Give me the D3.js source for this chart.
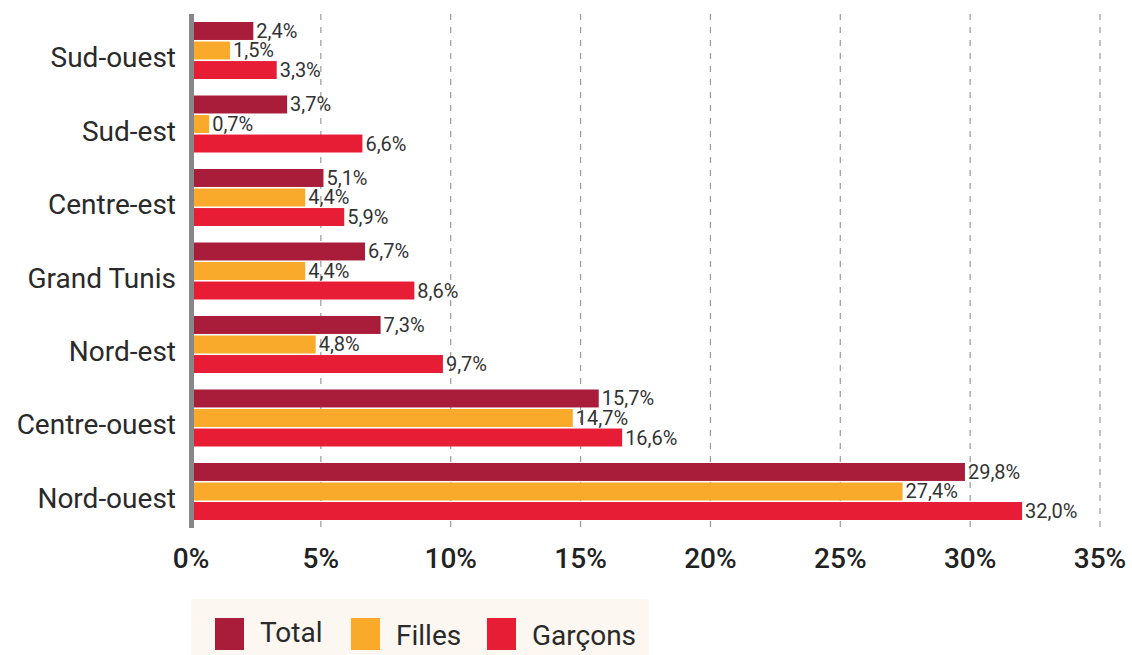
<!DOCTYPE html>
<html>
<head>
<meta charset="utf-8">
<script src="https://cdn.jsdelivr.net/npm/d3@7"></script>
<style>
  body { margin: 0; background: #fff; }
  svg { display: block; font-family: Roboto, "DejaVu Sans", sans-serif; }
</style>
</head>
<body>
<div id="chart"></div>
<script>
// categories top -> bottom
var regions = ["Sud-ouest", "Sud-est", "Centre-est", "Grand Tunis", "Nord-est", "Centre-ouest", "Nord-ouest"];
var seriesNames = ["Total", "Filles", "Garçons"];
var totalVals = [2.4, 3.7, 5.1, 6.7, 7.3, 15.7, 29.8];
var fillesVals = [1.5, 0.7, 4.4, 4.4, 4.8, 14.7, 27.4];
var garconsVals = [3.3, 6.6, 5.9, 8.6, 9.7, 16.6, 32.0];
var xTicks = [0, 5, 10, 15, 20, 25, 30, 35];
var colors = ["#a91d3a", "#f9aa2a", "#e71d36"];

var W = 1132, H = 655;
var svg = d3.select("#chart").append("svg").attr("width", W).attr("height", H);

var x = d3.scaleLinear().domain([0, 35]).range([191, 1100]);
var y = d3.scaleBand().domain(regions).range([14, 528]).paddingInner(0.2245).paddingOuter(0.109);
var ySub = d3.scaleBand().domain(seriesNames).range([0, y.bandwidth()]).paddingInner(0.08);

var allVals = [totalVals, fillesVals, garconsVals];

// dashed grid
svg.append("g").selectAll("line")
  .data(xTicks.slice(1))
  .enter().append("line")
  .attr("x1", function(d){ return x(d); })
  .attr("x2", function(d){ return x(d); })
  .attr("y1", 14).attr("y2", 528)
  .attr("stroke", "#9a9a9a").attr("stroke-width", 1.2)
  .attr("stroke-dasharray", "6,7");

// bars
var groups = svg.append("g").selectAll("g")
  .data(regions)
  .enter().append("g")
  .attr("transform", function(d){ return "translate(0," + y(d) + ")"; });

groups.each(function(reg, i){
  var g = d3.select(this);
  seriesNames.forEach(function(s, j){
    var v = allVals[j][i];
    g.append("rect")
      .attr("x", x(0))
      .attr("y", ySub(s))
      .attr("width", x(v) - x(0))
      .attr("height", ySub.bandwidth())
      .attr("fill", colors[j]);
    g.append("text")
      .attr("x", x(v) + 3)
      .attr("y", ySub(s) + ySub.bandwidth() / 2 + 7)
      .attr("font-size", 20)
      .attr("fill", "#333")
      .text(String(v.toFixed(1)).replace(".", ",") + "%");
  });
});

// axis line
svg.append("line")
  .attr("x1", 191.5).attr("x2", 191.5)
  .attr("y1", 14).attr("y2", 528)
  .attr("stroke", "#87878a").attr("stroke-width", 5);

// category labels
svg.append("g").selectAll("text")
  .data(regions)
  .enter().append("text")
  .attr("x", 176)
  .attr("y", function(d){ return y(d) + y.bandwidth() / 2 + 16.5; })
  .attr("text-anchor", "end")
  .attr("font-size", 28)
  .attr("fill", "#2a2a2a")
  .text(function(d){ return d; });

// x tick labels
svg.append("g").selectAll("text")
  .data(xTicks)
  .enter().append("text")
  .attr("x", function(d){ return x(d); })
  .attr("y", 568)
  .attr("text-anchor", "middle")
  .attr("font-size", 28)
  .attr("font-weight", 500)
  .attr("fill", "#222")
  .text(function(d){ return d + "%"; });

// legend
var leg = svg.append("g");
leg.append("rect").attr("x", 191).attr("y", 599).attr("width", 458).attr("height", 56).attr("fill", "#fcf7f0");
var legX = [215, 351, 487];
seriesNames.forEach(function(s, j){
  leg.append("rect").attr("x", legX[j]).attr("y", 618).attr("width", 29).attr("height", 32).attr("fill", colors[j]);
  leg.append("text").attr("x", legX[j] + 45).attr("y", j == 0 ? 642 : 645)
    .attr("font-size", 28).attr("fill", "#2a2a2a").text(s);
});
</script>
</body>
</html>
